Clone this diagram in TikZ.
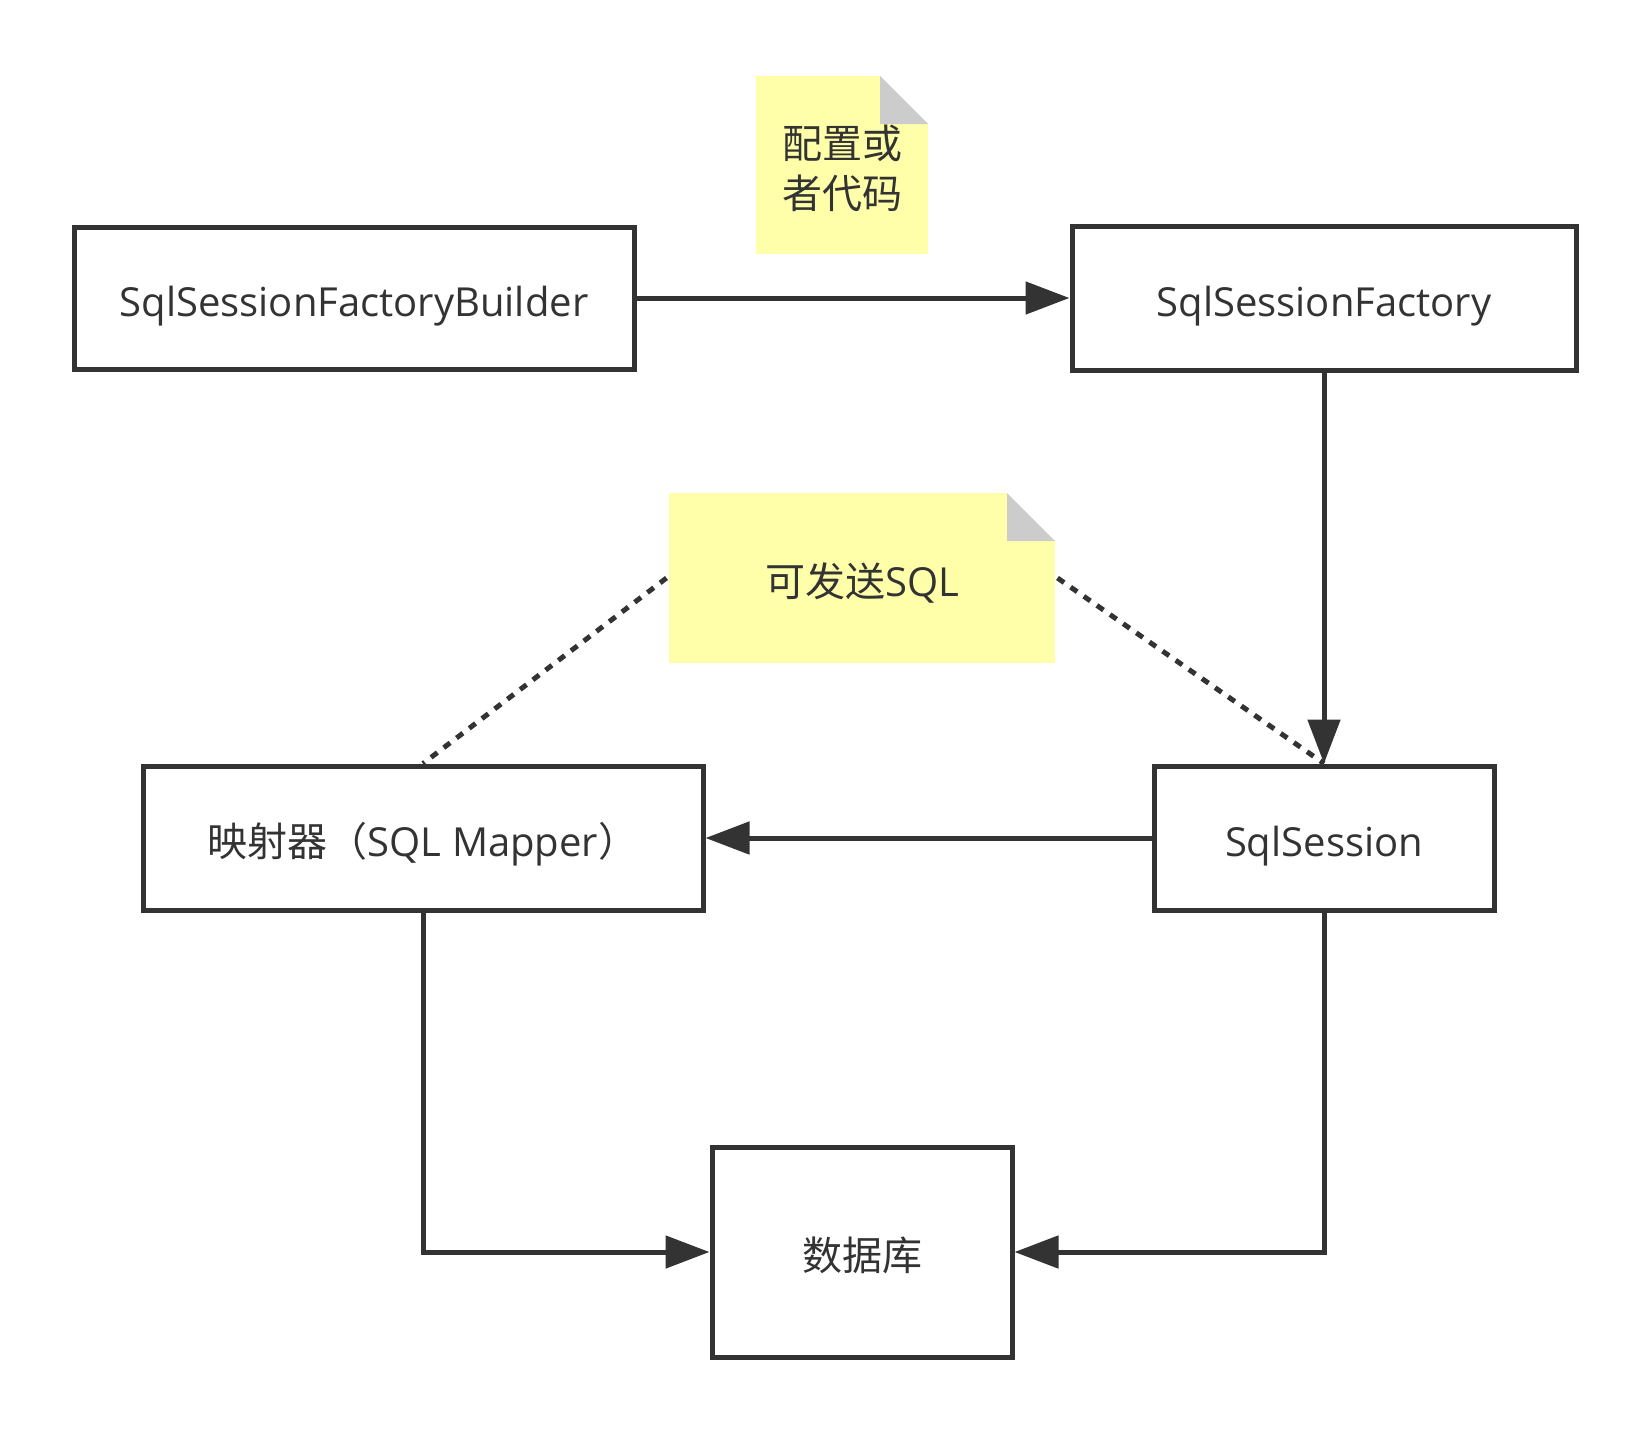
\documentclass[tikz,border=0pt]{standalone}
\usepackage{fontspec}
\setmainfont{Open Sans}
\newfontfamily\cjk{Noto Sans CJK SC}
\usetikzlibrary{arrows.meta}
\definecolor{ink}{HTML}{333333}
\definecolor{notefill}{HTML}{FFFFAA}
\definecolor{foldgray}{HTML}{CCCCCC}
\begin{document}
\begin{tikzpicture}
[ x=0.5pt, y=-0.5pt, line width=2.5pt, color=ink
, font=\fontsize{20}{25}\selectfont, text height=20pt, text depth=2pt
, box/.style={rectangle, draw, inner sep=0pt}
, note/.style={rectangle, fill=notefill, inner sep=0pt, align=center,
    path picture={
      \fill[white] ([xshift=-24pt]path picture bounding box.north east) -- (path picture bounding box.north east) -- ([yshift=-24pt]path picture bounding box.north east) -- cycle;
      \fill[foldgray] ([xshift=-24pt]path picture bounding box.north east) |- ([yshift=-24pt]path picture bounding box.north east) -- cycle;
    }}
, flow/.style={-{Triangle[length=22pt, width=16pt]}, line join=miter}
, link/.style={dash pattern=on 4pt off 4pt}
]
\useasboundingbox (0,0) rectangle (1650,1431);
% Top row:
\node (builder) [box, minimum width=280pt, minimum height=71pt] at (354,298) {SqlSessionFactoryBuilder};
\node (factory) [box, minimum width=252pt, minimum height=72pt] at (1324,298) {SqlSessionFactory};
\node (config) [note, minimum width=86pt, minimum height=89pt, text height=45pt] at (842,165) {{\cjk 配置或}\\{\cjk 者代码}};
% Middle row:
\node (sendsql) [note, minimum width=193pt, minimum height=85pt] at (862,578) {{\cjk 可发送}SQL};
\node (mapper) [box, minimum width=280pt, minimum height=72pt] at (423,838) {{\cjk 映射器（}SQL Mapper{\cjk ）}};
\node (session) [box, minimum width=170pt, minimum height=72pt] at (1324,838) {SqlSession};
% Bottom row:
\node (db) [box, minimum width=150pt, minimum height=105pt] at (862,1252) {\cjk 数据库};
\draw [link] (sendsql.west) -- (mapper.north);
\draw [link] (sendsql.east) -- (session.north);
\draw [flow] (builder.east) -- (factory.west);
\draw [flow] (factory.south) -- (session.north);
\draw [flow] (session.west) -- (mapper.east);
\draw [flow] (mapper.south) |- (db.west);
\draw [flow] (session.south) |- (db.east);
\end{tikzpicture}
\end{document}
